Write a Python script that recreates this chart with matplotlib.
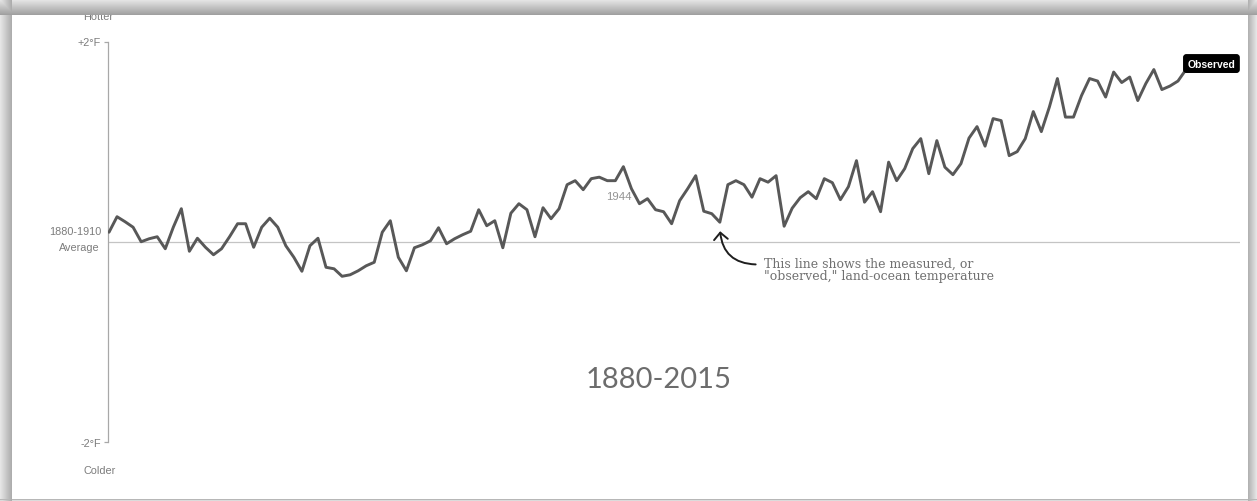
import numpy as np
import matplotlib
matplotlib.use("Agg")
import matplotlib.pyplot as plt

# Observed land-ocean temperature, degrees F relative to the 1880-1910 average
start_year = 1880
observed = [
    0.095, 0.25, 0.20, 0.145, 0.0, 0.03, 0.05, -0.07, 0.145, 0.33,
    -0.095, 0.035, -0.055, -0.13, -0.07, 0.05, 0.18, 0.18, -0.055, 0.145,
    0.235, 0.145, -0.04, -0.155, -0.295, -0.04, 0.035, -0.255, -0.27, -0.345,
    -0.33, -0.29, -0.24, -0.205,
    0.095, 0.21, -0.155, -0.29, -0.06, -0.03, 0.01, 0.14, -0.02, 0.03,
    0.07, 0.105, 0.32, 0.16, 0.21, -0.06, 0.285, 0.38, 0.32, 0.05,
    0.34, 0.23, 0.33, 0.57, 0.61, 0.52, 0.63, 0.645, 0.61, 0.61,
    0.75, 0.53, 0.38, 0.43,
    0.32, 0.30, 0.18, 0.41, 0.53, 0.66, 0.305, 0.28, 0.195, 0.57,
    0.61, 0.57, 0.445, 0.63, 0.595, 0.66, 0.155, 0.335, 0.44, 0.50,
    0.43, 0.63, 0.59, 0.42, 0.55, 0.81, 0.395, 0.50, 0.30, 0.795,
    0.61, 0.73, 0.93, 1.03,
    0.68, 1.01, 0.745, 0.67, 0.78, 1.035, 1.15, 0.955, 1.23, 1.21,
    0.86, 0.90, 1.03, 1.30, 1.10, 1.345, 1.63, 1.245, 1.245, 1.46,
    1.63, 1.605, 1.445, 1.695, 1.59, 1.645, 1.41, 1.58, 1.72, 1.52,
    1.555, 1.605, 1.72,
]
years = np.arange(start_year, start_year + len(observed))

y_ticks = [-2, 2]
y_tick_labels = ["-2°F", "+2°F"]
peak_year = 1944
note_year = 1956
title = "1880-2015"
note = 'This line shows the measured, or\n"observed," land-ocean temperature'

W, H = 1257, 502
fig = plt.figure(figsize=(W / 100, H / 100), dpi=100)
fig.patch.set_facecolor("white")

# plot area in pixels: y axis at x=108, +2 at y=42.5, -2 at y=443
ax_left, ax_right, ax_top, ax_bottom = 108, 1240, 42.5, 443
ax = fig.add_axes([ax_left / W, (H - ax_bottom) / H,
                   (ax_right - ax_left) / W, (ax_bottom - ax_top) / H])
ax.patch.set_alpha(0)

px_per_year = (1186 - 109) / (len(observed) - 1)
ax.set_xlim(start_year - (109 - ax_left) / px_per_year,
            start_year + (ax_right - 109) / px_per_year)
ax.set_ylim(-2, 2)

for side in ["top", "right", "bottom"]:
    ax.spines[side].set_visible(False)
ax.spines["left"].set_color("#a8a8a8")
ax.spines["left"].set_linewidth(0.9)
ax.set_xticks([])
ax.set_yticks(y_ticks)
ax.set_yticklabels(y_tick_labels, family="Liberation Sans")
ax.tick_params(axis="y", direction="out", length=3, width=0.9, color="#a8a8a8",
               labelcolor="#7c7c7c", labelsize=7.8, pad=2)

# average baseline
ax.axhline(0, color="#c4c4c4", lw=0.9, zorder=1)

ax.plot(years, observed, color="#585858", lw=2.1, solid_joinstyle="round",
        solid_capstyle="round", zorder=3)

label_kw = dict(family="Liberation Sans", color="#7c7c7c", fontsize=7.8)
ax.annotate("1880-1910", xy=(0, 0), xycoords=("axes fraction", "data"),
            xytext=(-7, 11), textcoords="offset pixels", ha="right", va="center", **label_kw)
ax.annotate("Average", xy=(0, 0), xycoords=("axes fraction", "data"),
            xytext=(-8, -5), textcoords="offset pixels", ha="right", va="center", **label_kw)
fig.text(83 / W, 1 - 17.5 / H, "Hotter", ha="left", va="center", **label_kw)
fig.text(83 / W, 1 - 471 / H, "Colder", ha="left", va="center", **label_kw)

# year label under the 1944 peak
i = peak_year - start_year
ax.annotate(str(peak_year), xy=(years[i], observed[i]), xytext=(-5, -29),
            textcoords="offset pixels", ha="center", va="center",
            family="Liberation Sans", color="#949494", fontsize=8.2)

# end-of-line tag
ax.annotate("Observed", xy=(years[-1], observed[-1]), xytext=(1.5, 6),
            textcoords="offset pixels", ha="left", va="center",
            family="Liberation Sans", fontweight="bold", color="white", fontsize=7.5,
            bbox=dict(boxstyle="round,pad=0.36,rounding_size=0.25", fc="black", ec="black"),
            zorder=5)

# callout pointing at the 1956 dip
j = note_year - start_year
ax.annotate(note, xy=(years[j], observed[j]),
            xytext=(start_year + (764 - 109) / px_per_year, -0.28), textcoords="data",
            ha="left", va="center", family="DejaVu Serif", fontsize=9,
            color="#707070", linespacing=0.92,
            arrowprops=dict(arrowstyle="->,head_length=0.55,head_width=0.55",
                            connectionstyle="arc3,rad=-0.55", color="#1e1e1e", lw=1.4,
                            shrinkA=4, shrinkB=6.5, relpos=(0, 0.72)))

ax.text((659 - ax_left) / (ax_right - ax_left), (ax_bottom - 380) / (ax_bottom - ax_top),
        title, transform=ax.transAxes, ha="center", va="center",
        family="Lato", fontsize=21, color="#6c6c6c")

# grey window frame with soft shadow around the white panel
shade = np.ones((H, W))
shade[:16, :] = np.minimum(shade[:16, :], np.linspace(0.91, 0.63, 16)[:, None])
shade[:, :12] = np.minimum(shade[:, :12], np.linspace(0.90, 0.68, 12)[None, :])
shade[:, 1248:] = np.minimum(shade[:, 1248:], np.linspace(0.70, 0.90, W - 1248)[None, :])
shade[500:, :] = np.minimum(shade[500:, :], np.linspace(0.72, 0.86, H - 500)[:, None])
frame = np.zeros((H, W, 4))
frame[..., 0] = frame[..., 1] = frame[..., 2] = shade
frame[..., 3] = (shade < 0.999).astype(float)
fig.figimage(frame, xo=0, yo=0, origin="upper", zorder=10)

fig.savefig("out.png", dpi=100)
plt.close(fig)
